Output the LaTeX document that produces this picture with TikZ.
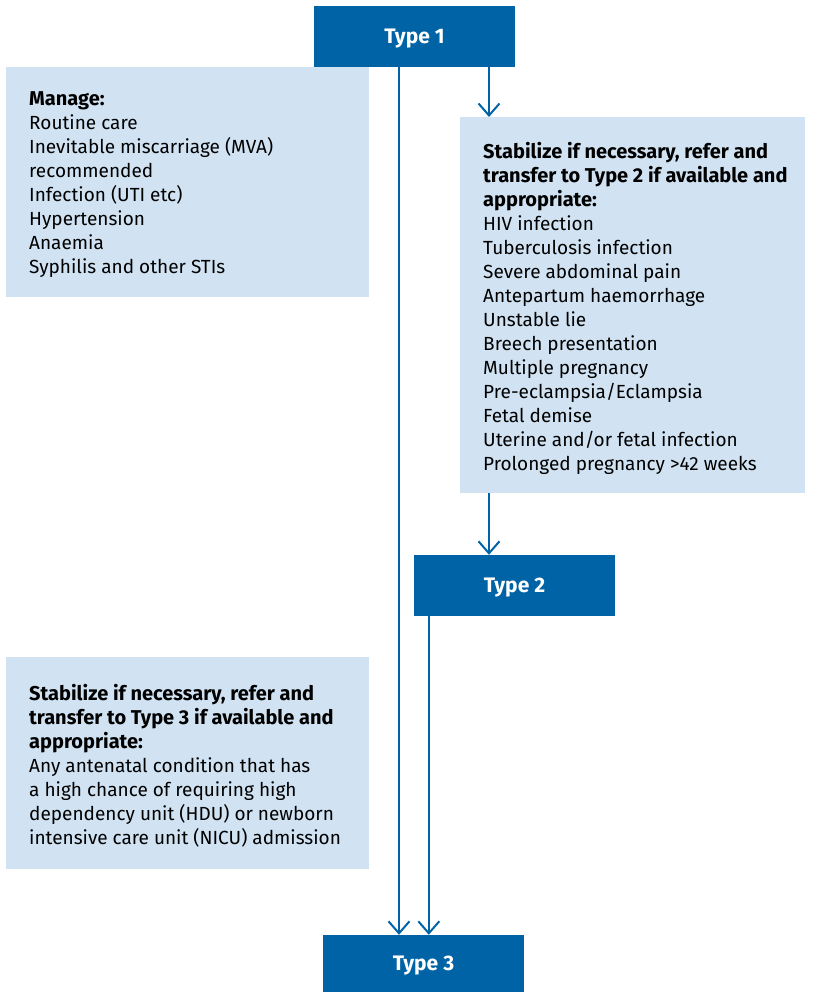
\documentclass[tikz,border=0pt]{standalone}
\usepackage{fontspec}
\setmainfont{Fira Sans}
\usetikzlibrary{arrows.meta}
\definecolor{typeblue}{RGB}{0,99,166}
\definecolor{boxblue}{RGB}{209,227,243}
\newcommand{\headline}[1]{{\bfseries\fontsize{20}{24}\selectfont #1}}
\begin{document}
\begin{tikzpicture}[x=1pt,y=1pt,yscale=-1,
  typebox/.style={fill=typeblue,text=white,inner sep=0pt,text depth=0pt,minimum width=201pt,minimum height=61pt,font=\bfseries\fontsize{21}{24}\selectfont},
  infobox/.style={fill=boxblue,anchor=north west,inner sep=0pt},
  infotext/.style={anchor=north west,inner sep=0pt,align=left,font=\fontsize{19}{24}\selectfont},
  flow/.style={draw=typeblue,line width=2pt,-{Straight Barb[length=12pt,width=21pt,line width=2pt]}}]
\useasboundingbox (0,0) rectangle (818,992);

%Shape: Type boxes
\node[typebox] (t1) at (414.5,36.5) {Type 1};
\node[typebox] (t2) at (514.5,585.5) {Type 2};
\node[typebox,minimum height=57pt] (t3) at (423.5,963.5) {Type 3};

%Shape: Info boxes
\node[infobox,minimum width=363pt,minimum height=230pt] (managebox) at (6,67) {};
\node[infobox,minimum width=345pt,minimum height=376pt] (stabtwobox) at (460,117) {};
\node[infobox,minimum width=363pt,minimum height=212pt] (stabthreebox) at (6,657) {};

% Text Node
\node[infotext] (manage) at (29,91) {\headline{Manage:}\\
Routine care\\
Inevitable miscarriage (MVA)\\
recommended\\
Infection (UTI etc)\\
Hypertension\\
Anaemia\\
Syphilis and other STIs};
% Text Node
\node[infotext] (stabtwo) at (483,142) {\headline{Stabilize if necessary, refer and}\\
\headline{transfer to Type 2 if available and}\\
\headline{appropriate:}\\
HIV infection\\
Tuberculosis infection\\
Severe abdominal pain\\
Antepartum haemorrhage\\
Unstable lie\\
Breech presentation\\
Multiple pregnancy\\
Pre-eclampsia/Eclampsia\\
Fetal demise\\
Uterine and/or fetal infection\\
Prolonged pregnancy >42 weeks};
% Text Node
\node[infotext] (stabthree) at (29,684) {\headline{Stabilize if necessary, refer and}\\
\headline{transfer to Type 3 if available and}\\
\headline{appropriate:}\\
Any antenatal condition that has\\
a high chance of requiring high\\
dependency unit (HDU) or newborn\\
intensive care unit (NICU) admission};

%Straight Lines
\draw[flow] ([xshift=-15.5pt]t1.south) -- ([xshift=-15.5pt]t1.south |- t3.north);
\draw[flow] ([xshift=74.5pt]t1.south) -- ([xshift=74.5pt]t1.south |- stabtwobox.north);
\draw[flow] ([xshift=29pt]stabtwobox.south west) -- ([xshift=29pt]stabtwobox.south west |- t2.north);
\draw[flow] ([xshift=15pt]t2.south west) -- ([xshift=15pt]t2.south west |- t3.north);

\end{tikzpicture}
\end{document}
